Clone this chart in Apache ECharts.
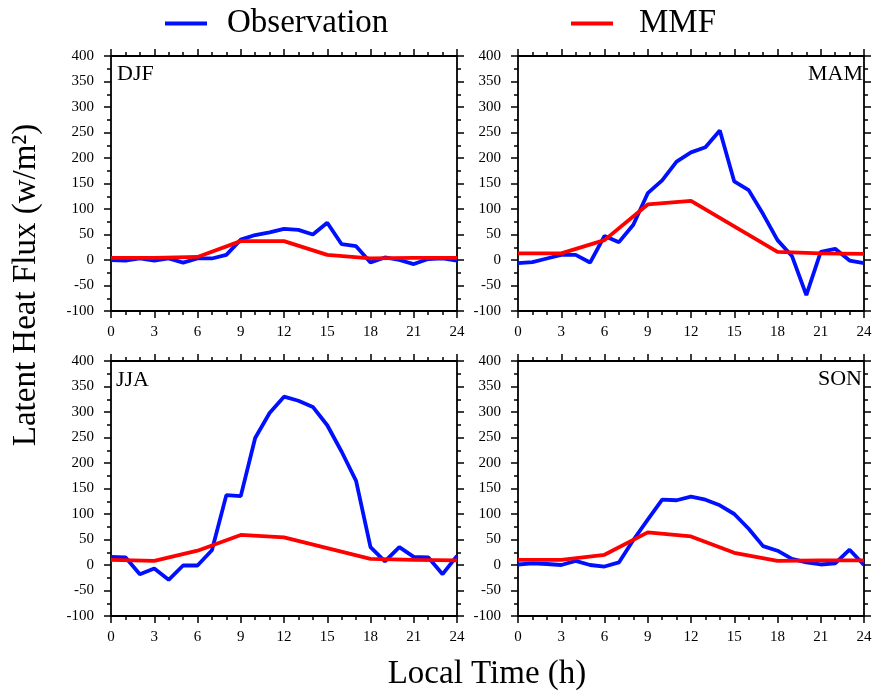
<!DOCTYPE html>
<html>
<head>
<meta charset="utf-8">
<script src="https://cdn.jsdelivr.net/npm/echarts@6/dist/echarts.min.js"></script>
<style>
html,body{margin:0;padding:0;background:#fff;}
#chart{width:876px;height:692px;}
</style>
</head>
<body>
<div id="chart"></div>
<script>
// ---- data ----
var hours = [0,1,2,3,4,5,6,7,8,9,10,11,12,13,14,15,16,17,18,19,20,21,22,23,24];
var mmfHours = [0,3,6,9,12,15,18,21,24];
var xTicks = [0,3,6,9,12,15,18,21,24];
var yTicks = [-100,-50,0,50,100,150,200,250,300,350,400];
var seasons = ['DJF','MAM','JJA','SON'];

var djfObs = [0,-1,3,-1,3,-5,3,3,10,40,49,54,61,59,50,73,31,27,-5,5,0,-8,2,3,-1];
var djfMmf = [4,4,6,37,37,10,3,4,4];
var mamObs = [-6,-4,3,10,10,-5,47,35,69,131,156,193,211,221,254,154,137,90,39,8,-69,16,22,-1,-6];
var mamMmf = [13,13,39,109,116,66,16,13,12];
var jjaObs = [16,15,-18,-7,-29,-1,-1,29,137,135,249,298,330,322,310,274,222,165,35,7,35,16,15,-18,18];
var jjaMmf = [10,8,28,59,54,33,12,10,9];
var sonObs = [1,3,2,0,8,0,-3,5,49,89,128,127,134,128,117,100,71,37,28,12,5,1,3,30,0];
var sonMmf = [10,10,20,64,56,24,8,9,9];

var obsSets = [djfObs, mamObs, jjaObs, sonObs];
var mmfSets = [djfMmf, mamMmf, jjaMmf, sonMmf];

// ---- layout ----
var FONT = 'Liberation Serif';
var BLUE = '#0010ff';
var RED = '#ff0000';
var grids = [
  {left:111, top:56, width:346, height:255},
  {left:518, top:56, width:346, height:255},
  {left:111, top:361, width:346, height:255},
  {left:518, top:361, width:346, height:255}
];

function pair(xs, ys){ return xs.map(function(x,i){ return [x, ys[i]]; }); }

var xAxes = [], yAxes = [], series = [];
grids.forEach(function(g, i){
  [['bottom', true], ['top', false]].forEach(function(p){
    xAxes.push({
      type:'value', gridIndex:i, position:p[0],
      min:xTicks[0], max:xTicks[xTicks.length-1], interval:xTicks[1]-xTicks[0],
      axisLine:{show:true, onZero:false, lineStyle:{color:'#000', width:1.8}},
      axisTick:{show:true, inside:false, length:7, lineStyle:{color:'#000', width:1.5}},
      minorTick:{show:true, splitNumber:3, length:4, lineStyle:{color:'#000', width:1.5}},
      splitLine:{show:false}, minorSplitLine:{show:false},
      axisLabel:{show:p[1], margin:14, color:'#000', fontFamily:FONT, fontSize:15}
    });
  });
  [['left', true], ['right', false]].forEach(function(p){
    yAxes.push({
      type:'value', gridIndex:i, position:p[0],
      min:yTicks[0], max:yTicks[yTicks.length-1], interval:yTicks[1]-yTicks[0],
      axisLine:{show:true, onZero:false, lineStyle:{color:'#000', width:1.8}},
      axisTick:{show:true, inside:false, length:7, lineStyle:{color:'#000', width:1.5}},
      minorTick:{show:true, splitNumber:2, length:4, lineStyle:{color:'#000', width:1.5}},
      splitLine:{show:false}, minorSplitLine:{show:false},
      axisLabel:{show:p[1], margin:17, color:'#000', fontFamily:FONT, fontSize:15}
    });
  });
  series.push({
    name:'Observation', type:'line', xAxisIndex:i*2, yAxisIndex:i*2,
    data:pair(hours, obsSets[i]), symbol:'none', color:BLUE,
    lineStyle:{color:BLUE, width:3.8}, z:3
  });
  series.push({
    name:'MMF', type:'line', xAxisIndex:i*2, yAxisIndex:i*2,
    data:pair(mmfHours, mmfSets[i]), symbol:'none', color:RED,
    lineStyle:{color:RED, width:3.8}, z:4
  });
});

var labelPos = [
  {x:117, y:74.5, align:'left'},
  {x:863, y:74.5, align:'right'},
  {x:116, y:380, align:'left'},
  {x:862, y:379.5, align:'right'}
];
var graphics = seasons.map(function(s, i){
  return {type:'text', x:labelPos[i].x, y:labelPos[i].y, z:10,
    style:{text:s, fontFamily:FONT, fontSize:22, fill:'#000',
      textAlign:labelPos[i].align, textVerticalAlign:'middle'}};
});
graphics.push({type:'text', x:487, y:674, z:10,
  style:{text:'Local Time (h)', fontFamily:FONT, fontSize:33, fill:'#000',
    textAlign:'center', textVerticalAlign:'middle'}});
graphics.push({type:'text', x:26, y:285, rotation:Math.PI/2, z:10,
  style:{text:'Latent Heat Flux (w/m²)', fontFamily:FONT, fontSize:33, fill:'#000',
    textAlign:'center', textVerticalAlign:'middle'}});

var chart = echarts.init(document.getElementById('chart'), null, {renderer:'canvas'});
chart.setOption({
  backgroundColor:'#fff',
  animation:false,
  legend:[
    {data:['Observation'], left:165, top:7, padding:0, icon:'rect', itemWidth:42, itemHeight:4,
     textStyle:{fontFamily:FONT, fontSize:33, color:'#000', padding:[0,0,0,15]}},
    {data:['MMF'], left:571, top:7, padding:0, icon:'rect', itemWidth:42, itemHeight:4,
     textStyle:{fontFamily:FONT, fontSize:33, color:'#000', padding:[0,0,0,21]}}
  ],
  grid:grids,
  xAxis:xAxes,
  yAxis:yAxes,
  series:series,
  graphic:graphics
});
</script>
</body>
</html>
